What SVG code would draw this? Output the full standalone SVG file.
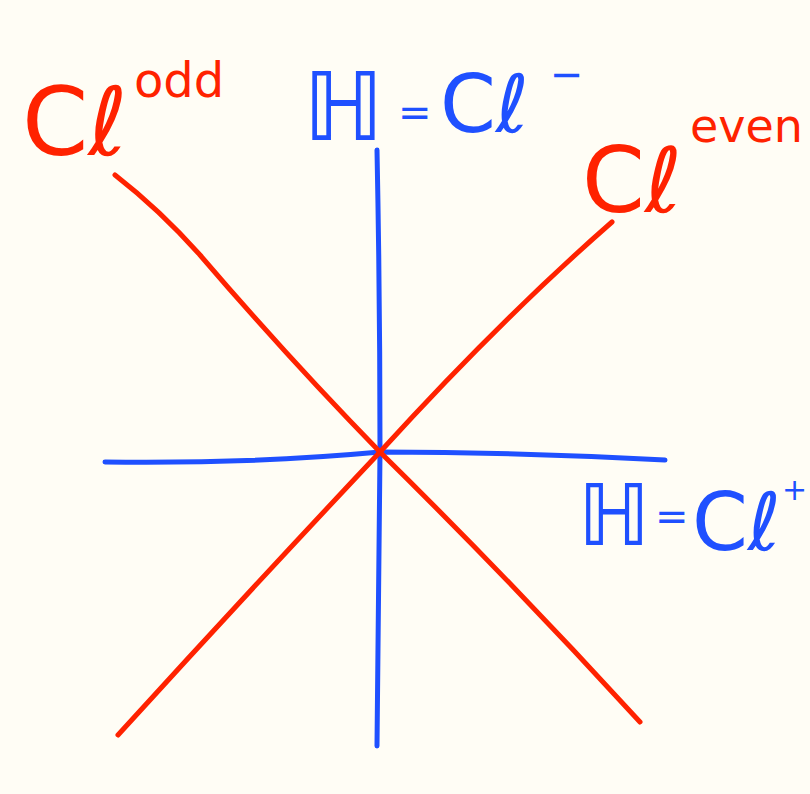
<svg xmlns="http://www.w3.org/2000/svg" width="810" height="794" viewBox="0 0 810 794">
<style>
.red{fill:#ff2200;font-family:"DejaVu Sans",sans-serif}
.blue{fill:#1f50ff;font-family:"DejaVu Sans",sans-serif}
.lr{fill:none;stroke:#ff2200;stroke-width:5;stroke-linecap:round;stroke-linejoin:round}
.lb{fill:none;stroke:#1f50ff;stroke-width:5;stroke-linecap:round;stroke-linejoin:round}
</style>
<rect width="810" height="794" fill="#fffdf5"/>
<g id="connectors">
<path class="lb" d="M377,150 Q380,300 380,452 Q378,600 377,746"/>
<path class="lb" d="M105,462 Q250,464 380,452 Q520,452 665,460"/>
<path class="lr" d="M115,175 Q160,210 200,255 Q290,360 380,452 Q510,580 640,722"/>
<path class="lr" d="M612,222 Q500,320 380,452 Q250,590 118,735"/>
</g>
<g id="label-cl-odd">
<text class="red" x="22" y="155" font-size="95">Cℓ</text>
<text class="red" x="134" y="97" font-size="48">odd</text>
</g>
<g id="label-h-cl-minus">
<text class="blue" x="303" y="140" font-size="95">ℍ</text>
<text class="blue" x="398" y="126" font-size="40">=</text>
<text class="blue" x="440" y="132" font-size="80">Cℓ</text>
<text class="blue" x="550" y="88" font-size="40">−</text>
</g>
<g id="label-cl-even">
<text class="red" x="582" y="212" font-size="90">Cℓ</text>
<text class="red" x="690" y="142" font-size="46">even</text>
</g>
<g id="label-h-cl-plus">
<text class="blue" x="578" y="545" font-size="85">ℍ</text>
<text class="blue" x="655" y="530" font-size="40">=</text>
<text class="blue" x="692" y="550" font-size="80">Cℓ</text>
<text class="blue" x="782" y="500" font-size="30">+</text>
</g>
</svg>
